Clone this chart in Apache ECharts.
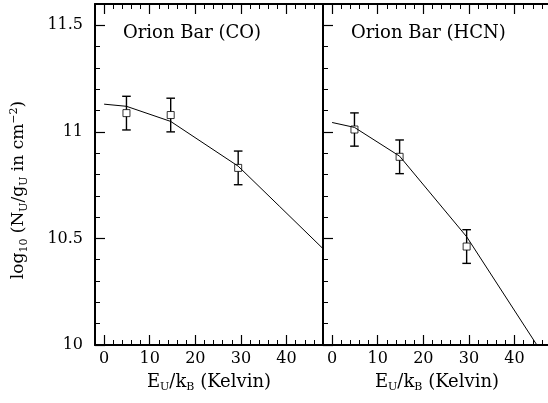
<!DOCTYPE html>
<html><head><meta charset="utf-8">
<script src="https://cdn.jsdelivr.net/npm/echarts@6/dist/echarts.min.js"></script>
<style>html,body{margin:0;padding:0;background:#fff}#c{width:548px;height:403px}</style>
</head><body><div id="c"></div>
<script>
// ---- data ----
const panelTitles = ['Orion Bar (CO)', 'Orion Bar (HCN)'];
const energyCO = [4.9, 14.6, 29.4];
const logNCO = [11.088, 11.079, 10.831];
const errCO = [0.079, 0.079, 0.079];
const modelXCO = [0, 4.9, 14.6, 29.4, 38.4, 48];
const modelYCO = [11.130, 11.120, 11.049, 10.839, 10.652, 10.452];
const energyHCN = [4.9, 14.8, 29.5];
const logNHCN = [11.011, 10.883, 10.462];
const errHCN = [0.078, 0.079, 0.079];
const modelXHCN = [0, 4.9, 14.8, 29.5, 44.9];
const modelYHCN = [11.044, 11.021, 10.886, 10.508, 10.0];
const xMajorTicks = [0, 10, 20, 30, 40];
const xMinorTicks = [-2, 0, 2, 4, 6, 8, 10, 12, 14, 16, 18, 20, 22, 24, 26, 28, 30, 32, 34, 36, 38, 40, 42, 44, 46, 48];
const yMajorTicks = [10, 10.5, 11, 11.5];
const yMinorTicks = [10, 10.1, 10.2, 10.3, 10.4, 10.5, 10.6, 10.7, 10.8, 10.9, 11, 11.1, 11.2, 11.3, 11.4, 11.5, 11.6];
const xRange = [-2, 48];
const yRange = [10, 11.6];

const FF = 'DejaVu Serif';
const panels = [
  {energy: energyCO, val: logNCO, err: errCO, mx: modelXCO, my: modelYCO},
  {energy: energyHCN, val: logNHCN, err: errHCN, mx: modelXHCN, my: modelYHCN}
];
const gridLefts = [95, 323];

const grids = [], xAxes = [], yAxes = [], series = [], titles = [];
const blackLine = {color: '#000', width: 2};
panels.forEach((p, g) => {
  grids.push({left: gridLefts[g], top: 4, width: 228, height: 341, containLabel: false, outerBoundsMode: 'none'});
  const xb = {gridIndex: g, type: 'value', min: xRange[0], max: xRange[1], splitLine: {show: false}};
  xAxes.push(Object.assign({}, xb, {
    position: 'bottom',
    axisLine: {show: true, onZero: false, lineStyle: blackLine},
    axisTick: {show: true, inside: true, length: 10, customValues: xMajorTicks, lineStyle: {color: '#000', width: 1.2}},
    axisLabel: {show: true, customValues: xMajorTicks, margin: 6, color: '#000', fontFamily: FF, fontSize: 16},
    name: 'E{s|U}/k{s|B} (Kelvin)', nameLocation: 'middle', nameGap: 26,
    nameTextStyle: {color: '#000', fontFamily: FF, fontSize: 18, lineHeight: 21,
      rich: {s: {fontFamily: FF, fontSize: 11, color: '#000', verticalAlign: 'bottom', lineHeight: 11}}}
  }));
  const xBottomIdx = xAxes.length - 1;
  xAxes.push(Object.assign({}, xb, {
    position: 'bottom', axisLine: {show: false, onZero: false},
    axisTick: {show: true, inside: true, length: 5, customValues: xMinorTicks, lineStyle: {color: '#000', width: 1}},
    axisLabel: {show: false}
  }));
  xAxes.push(Object.assign({}, xb, {
    position: 'top', axisLine: {show: true, onZero: false, lineStyle: blackLine},
    axisTick: {show: true, inside: true, length: 10, customValues: xMajorTicks, lineStyle: {color: '#000', width: 1.2}},
    axisLabel: {show: false}
  }));
  xAxes.push(Object.assign({}, xb, {
    position: 'top', axisLine: {show: false, onZero: false},
    axisTick: {show: true, inside: true, length: 5, customValues: xMinorTicks, lineStyle: {color: '#000', width: 1}},
    axisLabel: {show: false}
  }));
  const yb = {gridIndex: g, type: 'value', min: yRange[0], max: yRange[1], splitLine: {show: false}, position: 'left'};
  yAxes.push(Object.assign({}, yb, {
    axisLine: {show: true, onZero: false, lineStyle: blackLine},
    axisTick: {show: true, inside: true, length: 10, customValues: yMajorTicks, lineStyle: {color: '#000', width: 1.2}},
    axisLabel: {show: g === 0, customValues: yMajorTicks, margin: 12, color: '#000', fontFamily: FF, fontSize: 16,
      formatter: v => String(v)}
  }));
  const yIdx = yAxes.length - 1;
  yAxes.push(Object.assign({}, yb, {
    axisLine: {show: false, onZero: false},
    axisTick: {show: true, inside: true, length: 5, customValues: yMinorTicks, lineStyle: {color: '#000', width: 1}},
    axisLabel: {show: false}
  }));

  titles.push({text: panelTitles[g], left: gridLefts[g] + 28, top: 24, padding: 0,
    textStyle: {color: '#000', fontFamily: FF, fontSize: 18, fontWeight: 'normal'}});

  series.push({type: 'line', xAxisIndex: xBottomIdx, yAxisIndex: yIdx,
    data: p.mx.map((x, i) => [x, p.my[i]]), showSymbol: false, symbol: 'none', clip: true,
    lineStyle: {color: '#000', width: 1}, z: 2, silent: true});
  series.push({type: 'custom', xAxisIndex: xBottomIdx, yAxisIndex: yIdx, z: 3, silent: true,
    data: p.energy.map((x, i) => [x, p.val[i] - p.err[i], p.val[i] + p.err[i], p.val[i]]),
    renderItem: (params, api) => {
      const x = api.value(0);
      const lo = api.coord([x, api.value(1)]);
      const hi = api.coord([x, api.value(2)]);
      const c = api.coord([x, api.value(3)]);
      const cap = 4.3, half = 3.5;
      const st = {stroke: '#000', lineWidth: 1.4};
      return {type: 'group', children: [
        {type: 'line', shape: {x1: hi[0] - cap, y1: hi[1], x2: hi[0] + cap, y2: hi[1]}, style: st},
        {type: 'line', shape: {x1: lo[0] - cap, y1: lo[1], x2: lo[0] + cap, y2: lo[1]}, style: st},
        {type: 'line', shape: {x1: hi[0], y1: hi[1], x2: c[0], y2: c[1] - half}, style: st},
        {type: 'line', shape: {x1: c[0], y1: c[1] + half, x2: lo[0], y2: lo[1]}, style: st}
      ]};
    }});
  series.push({type: 'scatter', xAxisIndex: xBottomIdx, yAxisIndex: yIdx, z: 4, silent: true,
    data: p.energy.map((x, i) => [x, p.val[i]]), symbol: 'rect', symbolSize: 7,
    itemStyle: {color: 'rgba(0,0,0,0)', borderColor: '#000', borderWidth: 1}});
});

const chart = echarts.init(document.getElementById('c'), null, {renderer: 'canvas'});
chart.setOption({
  backgroundColor: '#fff',
  animation: false,
  title: titles,
  grid: grids,
  xAxis: xAxes,
  yAxis: yAxes,
  series: series,
  graphic: [{
    type: 'text', x: 19, y: 190, rotation: Math.PI / 2,
    style: {
      text: 'log{s|10} (N{s|U}/g{s|U} in cm{p|−2})',
      fill: '#000', fontFamily: FF, fontSize: 17, lineHeight: 21,
      align: 'center', verticalAlign: 'middle',
      rich: {
        s: {fontFamily: FF, fontSize: 11, fill: '#000', verticalAlign: 'bottom', lineHeight: 11},
        p: {fontFamily: FF, fontSize: 11, fill: '#000', verticalAlign: 'top', lineHeight: 11}
      }
    }
  }]
});
</script></body></html>
